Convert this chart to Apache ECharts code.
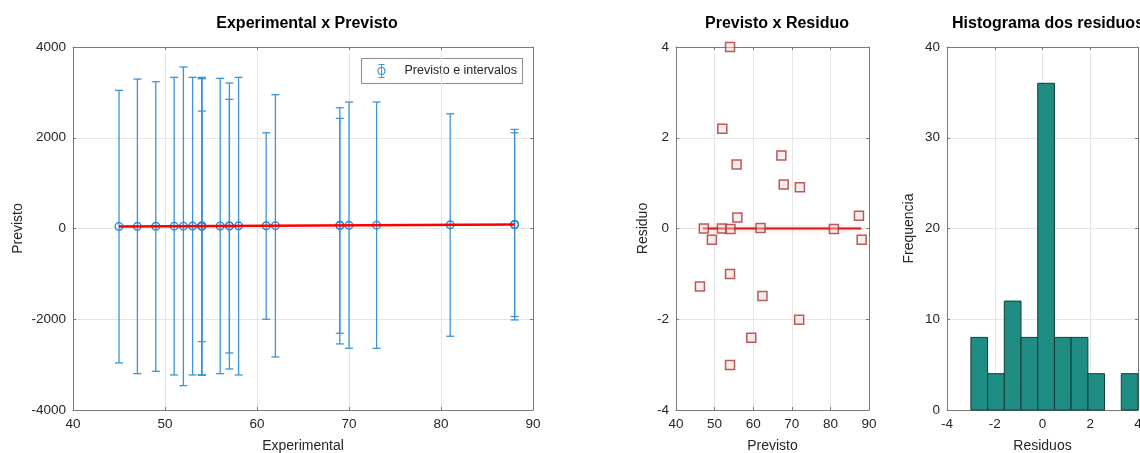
<!DOCTYPE html>
<html>
<head>
<meta charset="utf-8">
<script src="https://cdn.jsdelivr.net/npm/echarts@6/dist/echarts.min.js"></script>
<style>
  html, body { margin: 0; padding: 0; background: #fff; }
  #main { width: 1140px; height: 453px; }
</style>
</head>
<body>
<div id="main"></div>
<script>
// Experimental x Previsto (com intervalos)
var experimental = [45, 47, 49, 51, 52, 53, 54, 54, 54, 54, 56, 57, 57, 58, 61, 62, 69, 69, 70, 73, 81, 88, 88];
var previsto     = [45, 47, 49, 51, 52, 53, 54, 54, 54, 54, 56, 57, 57, 58, 61, 62, 69, 69, 70, 73, 81, 88, 88];
var limSup = [3044, 3294, 3235, 3331, 3559, 3331, 3331, 3315, 3300, 2588, 3309, 3206, 2846, 3331, 2110, 2949, 2662, 2426, 2787, 2787, 2529, 2184, 2110];
var limInf = [-2963, -3199, -3147, -3228, -3463, -3228, -3228, -3228, -3228, -2493, -3199, -3096, -2743, -3228, -2000, -2831, -2544, -2309, -2640, -2640, -2375, -2015, -1941];
var retaX = [45, 88];
var retaY = [45, 88];

// Previsto x Residuo
var resPrev = [54, 52, 55.7, 67.3, 67.9, 72.1, 55.9, 87.4, 47.2, 51.9, 54.1, 61.9, 80.9, 49.3, 88.1, 54, 46.2, 62.4, 71.9, 59.5, 54];
var residuo = [4.0, 2.2, 1.41, 1.61, 0.97, 0.91, 0.24, 0.28, 0.0, 0.0, -0.01, 0.01, -0.01, -0.25, -0.25, -1.0, -1.28, -1.49, -2.01, -2.41, -3.01];
var zeroX = [47, 88];

// Histograma
var binEdges = [-3, -2.3, -1.6, -0.9, -0.2, 0.5, 1.2, 1.9, 2.6, 3.3, 4.0];
var freq = [8, 4, 12, 8, 36, 8, 8, 4, 0, 4];

var fonte = 'Liberation Sans, Arial, sans-serif';
var corTexto = '#262626';
var corEixo = '#7a7a7a';

var errData = experimental.map(function (x, i) { return [x, previsto[i], limInf[i], limSup[i]]; });
var resData = resPrev.map(function (x, i) { return [x, residuo[i]]; });
var histData = freq.map(function (c, i) { return [binEdges[i], binEdges[i + 1], c]; });

function eixo(grid, pos, min, max, interval, mirror, name, gap) {
    return {
        type: 'value',
        gridIndex: grid,
        position: pos,
        min: min, max: max, interval: interval,
        name: mirror ? '' : name,
        nameLocation: 'middle',
        nameGap: gap,
        nameTextStyle: { color: corTexto, fontSize: 14, fontFamily: fonte },
        axisLine: { show: true, onZero: false, lineStyle: { color: corEixo, width: 1 } },
        axisTick: { show: true, inside: true, length: 3, lineStyle: { color: corEixo } },
        axisLabel: { show: !mirror, color: corTexto, fontSize: 13.5, fontFamily: fonte, margin: 7,
                     formatter: function (v) { return String(v); } },
        splitLine: { show: !mirror, lineStyle: { color: '#e6e6e6', width: 1 } }
    };
}

var tituloEstilo = { fontSize: 16, fontWeight: 'bold', color: '#000', fontFamily: fonte };

var chart = echarts.init(document.getElementById('main'));
var option = {
    animation: false,
    backgroundColor: '#fff',
    title: [
        { text: 'Experimental x Previsto', left: 302, top: 11, textAlign: 'center', textStyle: tituloEstilo },
        { text: 'Previsto x Residuo', left: 772, top: 11, textAlign: 'center', textStyle: tituloEstilo },
        { text: 'Histograma dos residuos', left: 1043, top: 11, textAlign: 'center', textStyle: tituloEstilo }
    ],
    grid: [
        { left: 73, width: 460, top: 47, height: 363, outerBoundsMode: 'none', containLabel: false },
        { left: 676, width: 193, top: 47, height: 363, outerBoundsMode: 'none', containLabel: false },
        { left: 947, width: 191, top: 47, height: 363, outerBoundsMode: 'none', containLabel: false }
    ],
    xAxis: [
        eixo(0, 'bottom', 40, 90, 10, false, 'Experimental', 29),
        eixo(0, 'top', 40, 90, 10, true),
        eixo(1, 'bottom', 40, 90, 10, false, 'Previsto', 29),
        eixo(1, 'top', 40, 90, 10, true),
        eixo(2, 'bottom', -4, 4, 2, false, 'Residuos', 29),
        eixo(2, 'top', -4, 4, 2, true)
    ],
    yAxis: [
        eixo(0, 'left', -4000, 4000, 2000, false, 'Previsto', 48),
        eixo(0, 'right', -4000, 4000, 2000, true),
        eixo(1, 'left', -4, 4, 2, false, 'Residuo', 26),
        eixo(1, 'right', -4, 4, 2, true),
        eixo(2, 'left', 0, 40, 10, false, 'Frequencia', 31),
        eixo(2, 'right', 0, 40, 10, true)
    ],
    graphic: [
        // legenda
        { type: 'group', left: 361, top: 58, children: [
            { type: 'rect', shape: { x: 0, y: 0, width: 161, height: 25 },
              style: { fill: '#fff', stroke: '#8c8c8c', lineWidth: 1 } },
            { type: 'line', shape: { x1: 20, y1: 6, x2: 20, y2: 19 }, style: { stroke: '#3b95d6', lineWidth: 1 } },
            { type: 'line', shape: { x1: 17, y1: 6, x2: 23, y2: 6 }, style: { stroke: '#3b95d6', lineWidth: 1 } },
            { type: 'line', shape: { x1: 17, y1: 19, x2: 23, y2: 19 }, style: { stroke: '#3b95d6', lineWidth: 1 } },
            { type: 'circle', shape: { cx: 20, cy: 12.5, r: 3.5 }, style: { fill: 'none', stroke: '#3b95d6', lineWidth: 1.2 } },
            { type: 'text', x: 43, y: 6, style: { text: 'Previsto e intervalos', fill: corTexto, fontSize: 12.5, fontFamily: fonte } }
        ] }
    ],
    series: [
        {
            name: 'Previsto e intervalos',
            type: 'custom',
            xAxisIndex: 0, yAxisIndex: 0,
            data: errData,
            encode: { x: 0, y: [1, 2, 3] },
            z: 2,
            renderItem: function (params, api) {
                var x = api.value(0);
                var topo = api.coord([x, api.value(3)]);
                var base = api.coord([x, api.value(2)]);
                var meio = api.coord([x, api.value(1)]);
                var cap = 4;
                var estilo = { stroke: '#3b95d6', lineWidth: 1.3, fill: 'none' };
                return {
                    type: 'group',
                    children: [
                        { type: 'line', shape: { x1: topo[0], y1: topo[1], x2: base[0], y2: base[1] }, style: estilo },
                        { type: 'line', shape: { x1: topo[0] - cap, y1: topo[1], x2: topo[0] + cap, y2: topo[1] }, style: estilo },
                        { type: 'line', shape: { x1: base[0] - cap, y1: base[1], x2: base[0] + cap, y2: base[1] }, style: estilo },
                        { type: 'circle', shape: { cx: meio[0], cy: meio[1], r: 3.8 }, style: { stroke: '#2a86cc', lineWidth: 1.4, fill: 'none' } }
                    ]
                };
            }
        },
        {
            type: 'line',
            xAxisIndex: 0, yAxisIndex: 0,
            data: retaX.map(function (x, i) { return [x, retaY[i]]; }),
            symbol: 'none',
            z: 3,
            lineStyle: { color: '#ff0000', width: 2.4 }
        },
        {
            type: 'line',
            xAxisIndex: 2, yAxisIndex: 2,
            data: zeroX.map(function (x) { return [x, 0]; }),
            symbol: 'none',
            z: 2,
            lineStyle: { color: '#cc1a1a', width: 2.2, shadowColor: 'rgba(255,60,60,0.4)', shadowBlur: 4 }
        },
        {
            type: 'scatter',
            xAxisIndex: 2, yAxisIndex: 2,
            data: resData,
            symbol: 'rect',
            symbolSize: 9,
            z: 3,
            itemStyle: { color: 'rgba(240,215,215,0.55)', borderColor: '#a83431', borderWidth: 1.5 }
        },
        {
            type: 'custom',
            xAxisIndex: 4, yAxisIndex: 4,
            data: histData,
            encode: { x: [0, 1], y: 2 },
            renderItem: function (params, api) {
                if (!api.value(2)) {
                    return null;
                }
                var p0 = api.coord([api.value(0), api.value(2)]);
                var p1 = api.coord([api.value(1), 0]);
                return {
                    type: 'rect',
                    shape: { x: p0[0], y: p0[1], width: p1[0] - p0[0], height: p1[1] - p0[1] },
                    style: { fill: '#1f8d83', stroke: '#0d3d38', lineWidth: 1 }
                };
            }
        }
    ]
};
chart.setOption(option);
window.onresize = chart.resize;
</script>
</body>
</html>
